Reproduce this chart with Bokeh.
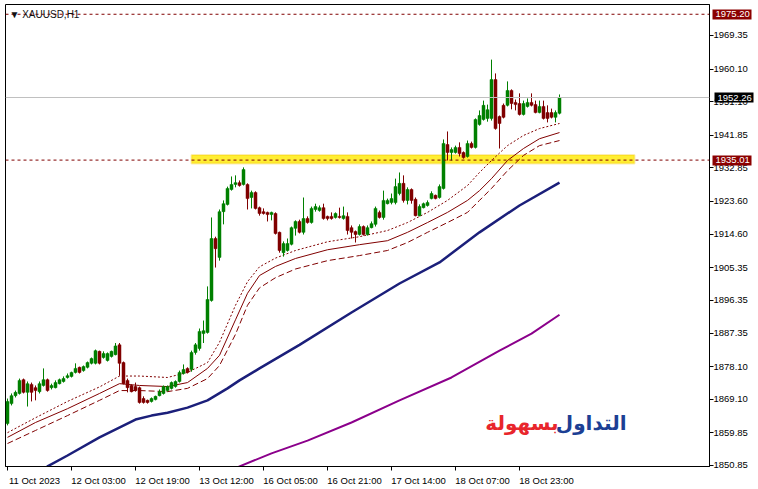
from bokeh.plotting import figure
from bokeh.models import (Range1d, FixedTicker, PrintfTickFormatter, Span, Label, ColumnDataSource,
                          BoxAnnotation, LinearAxis)
from bokeh.embed import file_html
from bokeh.resources import INLINE

# ---------------- data ----------------
bar_index = list(range(139))
opens = [1862.4, 1867.9, 1870.1, 1870.7, 1874.5, 1871.0, 1873.2, 1872.3, 1871.2, 1872.9,
         1874.5, 1872.3, 1872.3, 1873.4, 1874.0, 1875.1, 1875.4, 1876.5, 1877.9, 1877.0,
         1877.9, 1879.0, 1879.0, 1882.3, 1880.6, 1879.8, 1880.9, 1881.4, 1884.1, 1879.2,
         1874.3, 1872.9, 1872.6, 1872.3, 1869.3, 1868.8, 1868.5, 1869.0, 1870.1, 1870.7,
         1871.5, 1872.1, 1872.6, 1874.0, 1876.2, 1877.6, 1877.3, 1882.0, 1883.1, 1887.2,
         1887.5, 1896.3, 1913.4, 1908.2, 1920.8, 1922.8, 1926.9, 1928.3, 1928.8, 1928.3,
         1928.3, 1924.7, 1926.1, 1921.9, 1920.8, 1920.6, 1920.0, 1920.3, 1915.1, 1909.5,
         1910.1, 1911.8, 1916.2, 1918.1, 1915.1, 1918.9, 1917.8, 1921.4, 1921.1, 1921.9,
         1919.5, 1919.5, 1919.2, 1919.5, 1918.9, 1919.5, 1916.4, 1915.3, 1914.5, 1916.7,
         1914.5, 1916.4, 1917.3, 1920.6, 1919.2, 1923.0, 1923.3, 1923.3, 1925.8, 1928.6,
         1923.9, 1926.9, 1924.2, 1919.7, 1921.9, 1922.5, 1924.4, 1925.3, 1924.7, 1927.2,
         1939.3, 1937.1, 1937.1, 1938.5, 1937.1, 1936.0, 1939.6, 1938.5, 1944.8, 1946.2,
         1946.5, 1946.5, 1957.2, 1947.0, 1950.1, 1950.1, 1954.2, 1950.9, 1950.6, 1947.6,
         1949.8, 1950.9, 1950.3, 1948.1, 1949.8, 1948.1, 1948.1, 1946.8, 1947.9]
highs = [1869.3, 1870.7, 1871.5, 1874.8, 1874.8, 1874.0, 1873.7, 1872.9, 1874.0, 1877.6,
         1874.8, 1873.4, 1874.3, 1874.8, 1875.4, 1876.2, 1876.7, 1879.0, 1878.1, 1878.4,
         1879.5, 1880.6, 1882.8, 1882.5, 1882.3, 1882.0, 1882.5, 1884.6, 1884.6, 1879.5,
         1874.8, 1873.2, 1873.7, 1872.6, 1869.9, 1869.0, 1869.6, 1870.1, 1871.8, 1872.9,
         1872.9, 1874.0, 1874.3, 1877.0, 1878.7, 1877.9, 1882.5, 1884.6, 1888.6, 1890.8,
         1900.2, 1919.2, 1913.9, 1921.4, 1923.9, 1927.7, 1930.5, 1930.8, 1929.4, 1933.0,
         1928.6, 1926.6, 1926.4, 1922.2, 1921.7, 1920.8, 1920.8, 1920.6, 1915.3, 1912.6,
         1913.4, 1916.7, 1918.4, 1918.6, 1924.7, 1919.5, 1922.2, 1923.0, 1922.5, 1923.0,
         1919.7, 1920.6, 1920.6, 1921.9, 1922.2, 1920.6, 1917.0, 1915.6, 1917.3, 1917.0,
         1917.0, 1918.1, 1922.2, 1921.1, 1926.6, 1924.4, 1925.8, 1929.9, 1931.6, 1930.8,
         1927.5, 1927.2, 1924.7, 1922.8, 1923.3, 1923.9, 1926.4, 1925.5, 1928.3, 1940.7,
         1942.9, 1938.5, 1939.0, 1939.9, 1937.4, 1940.4, 1940.1, 1946.5, 1948.7, 1951.4,
         1950.3, 1962.7, 1958.9, 1947.3, 1950.6, 1956.7, 1954.5, 1951.7, 1953.4, 1951.4,
         1952.0, 1953.4, 1951.4, 1951.4, 1951.4, 1950.1, 1949.2, 1948.7, 1953.1]
lows = [1861.9, 1867.4, 1869.6, 1870.4, 1870.7, 1867.1, 1868.5, 1868.8, 1870.7, 1872.6,
        1871.2, 1871.8, 1872.1, 1873.2, 1873.7, 1874.8, 1875.1, 1876.2, 1876.2, 1876.7,
        1877.6, 1878.7, 1878.7, 1878.7, 1880.3, 1879.5, 1880.6, 1881.2, 1875.6, 1873.2,
        1871.0, 1871.0, 1871.2, 1867.9, 1867.9, 1867.9, 1868.2, 1868.8, 1869.9, 1870.4,
        1871.2, 1871.8, 1872.3, 1873.7, 1875.9, 1876.2, 1876.7, 1881.4, 1882.5, 1884.6,
        1887.2, 1896.0, 1905.4, 1907.3, 1917.3, 1922.5, 1926.6, 1927.5, 1927.7, 1928.0,
        1921.4, 1921.7, 1921.4, 1919.7, 1920.0, 1918.1, 1918.4, 1914.5, 1909.5, 1908.4,
        1909.8, 1911.5, 1914.2, 1914.8, 1914.5, 1917.5, 1917.5, 1920.8, 1920.8, 1918.6,
        1918.4, 1918.6, 1918.9, 1918.9, 1918.6, 1914.5, 1913.4, 1912.3, 1914.2, 1914.2,
        1914.2, 1916.2, 1916.7, 1918.9, 1918.6, 1922.8, 1922.8, 1922.8, 1925.3, 1923.3,
        1922.8, 1923.0, 1919.5, 1919.5, 1921.7, 1922.2, 1924.2, 1924.2, 1924.4, 1926.9,
        1934.9, 1934.9, 1936.8, 1936.0, 1935.4, 1935.7, 1938.2, 1938.2, 1944.5, 1945.9,
        1945.6, 1945.9, 1943.4, 1938.2, 1946.5, 1949.8, 1949.0, 1948.7, 1947.3, 1947.3,
        1949.5, 1949.8, 1947.9, 1947.9, 1946.2, 1945.4, 1946.5, 1945.4, 1947.6]
closes = [1868.5, 1870.1, 1871.0, 1874.3, 1871.0, 1873.4, 1871.0, 1871.5, 1873.4, 1874.5,
          1871.5, 1872.9, 1873.7, 1874.5, 1874.8, 1875.6, 1876.5, 1877.6, 1876.5, 1878.1,
          1879.2, 1880.3, 1882.5, 1879.0, 1881.7, 1881.7, 1882.3, 1883.8, 1879.0, 1873.4,
          1872.3, 1871.2, 1871.5, 1868.2, 1868.2, 1868.2, 1869.3, 1869.9, 1871.2, 1872.6,
          1872.6, 1873.7, 1874.0, 1876.5, 1877.3, 1876.5, 1882.0, 1884.1, 1887.8, 1888.0,
          1896.6, 1913.4, 1910.6, 1920.8, 1923.0, 1927.2, 1928.3, 1928.8, 1928.0, 1932.4,
          1924.4, 1926.1, 1921.7, 1920.3, 1920.3, 1920.0, 1920.6, 1914.8, 1910.1, 1912.0,
          1912.0, 1916.4, 1918.1, 1915.1, 1918.9, 1917.8, 1921.7, 1922.2, 1921.9, 1918.9,
          1918.9, 1918.9, 1920.3, 1919.2, 1919.7, 1915.6, 1915.1, 1914.5, 1916.7, 1914.5,
          1916.4, 1917.5, 1921.7, 1919.2, 1923.9, 1923.9, 1924.4, 1927.7, 1928.6, 1923.9,
          1926.9, 1923.9, 1919.7, 1922.2, 1923.0, 1923.3, 1925.8, 1924.4, 1927.7, 1939.6,
          1937.1, 1937.9, 1938.5, 1936.8, 1935.7, 1939.6, 1938.5, 1946.2, 1947.3, 1950.1,
          1948.9, 1957.2, 1943.7, 1945.1, 1946.8, 1954.2, 1950.6, 1950.3, 1947.6, 1950.6,
          1950.9, 1950.1, 1948.1, 1949.8, 1946.5, 1946.5, 1946.8, 1948.1, 1952.26]

# slow moving averages (vertices)
navy_ma_idx = [9, 10, 15, 23, 32, 36, 40, 45, 50, 55, 58, 63, 73, 86, 98, 108, 118, 128, 138]
navy_ma_val = [1849.7, 1850.6, 1853.6, 1858.6, 1863.5, 1864.6, 1865.4, 1866.8, 1868.8, 1872.1,
               1874.3, 1877.6, 1884.1, 1893.0, 1901.0, 1906.8, 1915.1, 1922.5, 1928.8]
purple_ma_idx = [57, 58, 66, 75, 86, 98, 111, 123, 131, 138]
purple_ma_val = [1850.0, 1850.6, 1854.2, 1857.7, 1862.7, 1868.8, 1875.1, 1882.5, 1887.2, 1892.4]

# envelope (upper / middle / lower)
env_idx = [0, 7, 15, 23, 28, 33, 40, 45, 50, 53, 57, 60, 63, 67, 72, 80, 88, 95, 100, 105, 110,
           115, 118, 121, 125, 129, 133, 138]
env_upper = [1859.9, 1864.0, 1868.5, 1872.5, 1875.5, 1875.5, 1875.1, 1876.5, 1879.2, 1884.8,
             1895.0, 1901.5, 1905.6, 1908.0, 1910.1, 1912.5, 1913.9, 1915.6, 1917.8, 1920.6,
             1923.9, 1928.0, 1931.6, 1934.9, 1939.0, 1941.8, 1943.7, 1945.1]
env_middle = [1858.6, 1862.7, 1866.5, 1870.7, 1873.4, 1872.9, 1872.6, 1873.7, 1877.6, 1881.2,
              1891.0, 1898.3, 1903.2, 1905.7, 1907.9, 1910.3, 1911.7, 1912.8, 1915.1, 1917.8,
              1920.6, 1923.9, 1926.6, 1929.9, 1934.9, 1938.2, 1940.9, 1942.6]
env_lower = [1856.9, 1860.5, 1864.6, 1868.8, 1871.5, 1871.5, 1871.2, 1872.1, 1874.8, 1878.4,
             1887.0, 1895.0, 1899.8, 1902.6, 1905.0, 1907.3, 1908.7, 1910.1, 1912.3, 1915.1,
             1917.8, 1920.6, 1923.9, 1927.2, 1932.1, 1936.3, 1939.0, 1940.4]

price_ticks = [1850.85, 1859.85, 1869.10, 1878.10, 1887.35, 1896.35, 1905.35, 1914.60,
               1923.60, 1932.85, 1941.85, 1951.10, 1960.10, 1969.35]
time_tick_idx = [0, 16, 32, 48, 64, 80, 96, 112, 128]
time_tick_labels = ["11 Oct 2023", "12 Oct 03:00", "12 Oct 19:00", "13 Oct 12:00",
                    "16 Oct 05:00", "16 Oct 21:00", "17 Oct 14:00", "18 Oct 07:00",
                    "18 Oct 23:00"]

level_top = 1975.20
level_bid = 1952.26
level_zone = 1935.01
zone_left, zone_right = 46, 156.75
zone_bottom, zone_top = 1934.07, 1936.41

# ---------------- figure ----------------
BULL = "#008000"
BEAR = "#800000"
TAG_RED = "#8B0000"
FONT = "Liberation Sans"
X_END = 175.5
AXIS_W = 41          # measured width of the price scale (tick + label)

p = figure(width=758, height=489, x_range=Range1d(-0.5, X_END), y_range=Range1d(1850.57, 1977.89),
           output_backend="svg", toolbar_location=None, y_axis_location="right",
           min_border_left=5, min_border_top=4, min_border_right=49, min_border_bottom=23)
p.background_fill_color = "white"
p.border_fill_color = "white"
p.outline_line_color = "black"
p.outline_line_width = 1
p.xgrid.visible = False
p.ygrid.visible = False

# y axis (right)
ya = p.yaxis[0]
ya.ticker = FixedTicker(ticks=price_ticks)
ya.formatter = PrintfTickFormatter(format="%.2f")
ya.major_tick_out = 4
ya.major_tick_in = 0
ya.minor_tick_out = 0
ya.minor_tick_in = 0
ya.major_label_standoff = 0
ya.axis_line_color = "black"
ya.major_tick_line_color = "black"
ya.major_label_text_font = FONT
ya.major_label_text_font_size = "9.5px"
ya.major_label_text_color = "black"

# x axis: labels placed to the right of their tick marks (MetaTrader style)
label_shift = 6.75
xa = p.xaxis[0]
shifted = [i + label_shift for i in time_tick_idx]
xa.ticker = FixedTicker(ticks=shifted, minor_ticks=time_tick_idx)
xa.major_label_overrides = {s: t for s, t in zip(shifted, time_tick_labels)}
xa.major_tick_out = 0
xa.major_tick_in = 0
xa.minor_tick_out = 4
xa.minor_tick_in = 0
xa.minor_tick_line_color = "black"
xa.major_label_standoff = 4
xa.axis_line_color = "black"
xa.major_label_text_font = FONT
xa.major_label_text_font_size = "9.5px"
xa.major_label_text_color = "black"

# price tags: extra right axes whose thick ticks reach back over the price scale
for vals, bg in [([level_top, level_zone], TAG_RED), ([level_bid], "#000000")]:
    tag = LinearAxis(ticker=FixedTicker(ticks=vals), formatter=PrintfTickFormatter(format="%.2f"))
    tag.axis_line_color = None
    tag.minor_tick_line_color = None
    tag.minor_tick_out = 0
    tag.minor_tick_in = 0
    tag.major_tick_line_color = bg
    tag.major_tick_line_width = 10
    tag.major_tick_line_cap = "butt"
    tag.major_tick_in = AXIS_W - 3
    tag.major_tick_out = 1
    tag.major_label_standoff = -(AXIS_W + 1 - 6)
    tag.major_label_text_font = FONT
    tag.major_label_text_font_size = "9.5px"
    tag.major_label_text_color = "white"
    p.add_layout(tag, "right")

# yellow zone rectangle
p.add_layout(BoxAnnotation(left=zone_left, right=zone_right, bottom=zone_bottom, top=zone_top,
                           fill_color="#FFEE33", fill_alpha=1.0, line_color="#F2C200",
                           line_width=2, level="underlay"))

# horizontal levels
p.add_layout(Span(location=level_bid, dimension="width", line_color="#C0C0C0", line_width=1))
p.add_layout(Span(location=level_top, dimension="width", line_color=BEAR, line_width=1,
                  line_dash="3 3"))
p.add_layout(Span(location=level_zone, dimension="width", line_color=BEAR, line_width=1,
                  line_dash="3 3"))

# moving averages
p.line(navy_ma_idx, navy_ma_val, line_color="#1B1F7A", line_width=2.5)
p.line(purple_ma_idx, purple_ma_val, line_color="#8B008B", line_width=2)
p.line(env_idx, env_upper, line_color=BEAR, line_width=1, line_dash="2 2")
p.line(env_idx, env_middle, line_color=BEAR, line_width=1)
p.line(env_idx, env_lower, line_color=BEAR, line_width=1, line_dash="6 3")

# candles
colors = [BULL if c >= o else BEAR for o, c in zip(opens, closes)]
src = ColumnDataSource(dict(
    x=bar_index, high=highs, low=lows,
    top=[max(o, c) for o, c in zip(opens, closes)],
    bottom=[min(o, c) for o, c in zip(opens, closes)],
    color=colors))
p.segment(x0="x", y0="low", x1="x", y1="high", line_color="color", line_width=1, source=src)
p.vbar(x="x", width=0.75, top="top", bottom="bottom", fill_color="color", line_color="color",
       line_width=0.5, source=src)

# symbol caption
p.add_layout(Label(x=9, x_units="canvas", y=level_top, text="\u25BC XAUUSD,H1",
                   text_font=FONT, text_font_size="10px", text_color="#111111",
                   text_baseline="middle"))

# watermark
p.add_layout(Label(x=626, x_units="canvas", y=1862.6, text="التداول",
                   text_font="DejaVu Sans", text_font_style="bold", text_font_size="20px",
                   text_color="#1C3F94", text_align="right", text_baseline="middle"))
p.add_layout(Label(x=558, x_units="canvas", y=1862.6, text="بسهولة",
                   text_font="DejaVu Sans", text_font_style="bold", text_font_size="20px",
                   text_color="#E8262C", text_align="right", text_baseline="middle"))

html = file_html(p, INLINE, title="XAUUSD,H1")
html = html.replace("<head>", "<head><style>html,body{margin:0;padding:0;}</style>", 1)
open("out.html", "w").write(html)
